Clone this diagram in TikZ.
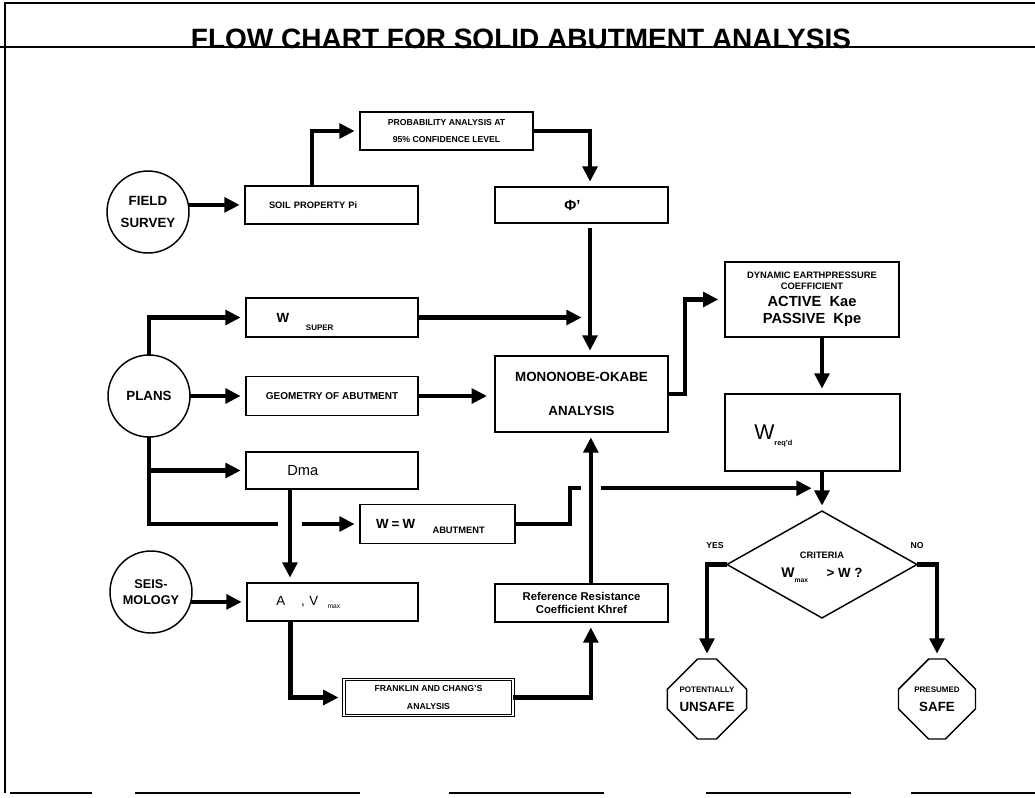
\documentclass[tikz,border=0pt]{standalone}
\usepackage{fontspec}
\setmainfont{Liberation Sans}
\usetikzlibrary{arrows.meta,shapes.geometric,shapes.misc,calc}
\begin{document}
\begin{tikzpicture}[x=0.75pt,y=-0.75pt,
  every node/.style={inner sep=0pt, outer sep=0pt},
  box/.style={draw, line width=1.1pt, rectangle, align=center, font=\bfseries\fontsize{7}{8.4}\selectfont},
  bubble/.style={draw, line width=1.1pt, circle, minimum size=61.5pt, align=center, font=\bfseries\fontsize{10}{12}\selectfont},
  octa/.style={draw, line width=1.1pt, chamfered rectangle, chamfered rectangle sep=13.5pt, minimum width=57.75pt, minimum height=60pt, align=center, font=\bfseries\fontsize{10}{12}\selectfont},
  flow/.style={line width=3.2pt, line join=miter, -{Triangle[length=11.5pt,width=11pt]}, shorten >=4pt},
  gapline/.style={white, line width=15pt},
  tag/.style={font=\bfseries\fontsize{6.5}{7}\selectfont},
]
\useasboundingbox (0,0) rectangle (1035,797);

% frame and title rule
\draw[line width=1.5pt] (1035,3) -- (5,3) -- (5,793);
\draw[line width=1pt] (10,793)--(92,793) (135,793)--(360,793) (449,793)--(604,793) (706,793)--(851,793) (911,793)--(1035,793);
\draw[line width=1pt] (0,47) -- (1035,47);
\node[font=\bfseries\fontsize{21}{24}\selectfont, anchor=base] (title) at (521,48) {FLOW CHART FOR SOLID ABUTMENT ANALYSIS};

% sources
\node[bubble] (fs) at (148,212) {FIELD\\[5pt]SURVEY};
\node[bubble] (plans) at (149,396) {PLANS};
\node[bubble, font=\bfseries\fontsize{9.5}{12}\selectfont] (seis) at (151,592) {SEIS-\\MOLOGY};

% boxes
\node[box, minimum width=129.75pt, minimum height=28.5pt, text width=129.75pt, align=left] (soil) at (331.5,205) {\hspace*{18pt}SOIL PROPERTY Pi};
\node[box, minimum width=129.75pt, minimum height=28.5pt, font=\bfseries\fontsize{6.5}{12.5}\selectfont] (prob) at (446.5,131) {PROBABILITY ANALYSIS AT\\95\% CONFIDENCE LEVEL};
\node[box, minimum width=129.75pt, minimum height=27pt, text width=129.75pt, align=left, font=\bfseries\fontsize{11}{13}\selectfont] (phi) at (581.5,205) {\hspace*{52pt}Φ'};
\node[box, line width=2pt, minimum width=129.75pt, minimum height=57pt, font=\bfseries\fontsize{10}{12}\selectfont] (mono) at (581.5,394) {MONONOBE-OKABE\\[14pt]ANALYSIS};
\node[box, minimum width=129pt, minimum height=29.25pt, text width=129pt, align=left] (wsup) at (332,317.5) {\hspace*{23pt}{\fontsize{10}{12}\selectfont W}\hspace{12.5pt}\raisebox{-6pt}[0pt][0pt]{\fontsize{6}{7}\selectfont SUPER}};
\node[box, minimum width=129pt, minimum height=29.25pt, font=\bfseries\fontsize{7.5}{9}\selectfont] (geom) at (332,396) {GEOMETRY OF ABUTMENT};
\node[box, minimum width=129pt, minimum height=27.75pt, text width=129pt, align=left, font=\fontsize{11}{13}\selectfont] (dma) at (332,470.5) {\hspace*{31pt}Dma};
\node[box, minimum width=116.25pt, minimum height=29.25pt, text width=116.25pt, align=left] (wab) at (437.5,524) {\hspace*{12pt}{\fontsize{10}{12}\selectfont W = W}\hspace{13pt}\raisebox{-4pt}[0pt][0pt]{\fontsize{7}{8}\selectfont ABUTMENT}};
\node[box, minimum width=128.25pt, minimum height=28.5pt, text width=128.25pt, align=left, font=\fontsize{10}{12}\selectfont] (avm) at (332.5,602) {\hspace*{22pt}A\hspace{12pt}, V\hspace{7pt}\raisebox{-2pt}[0pt][0pt]{\fontsize{5}{6}\selectfont max}};
\node[box, double, double distance=1.3pt, line width=0.7pt, minimum width=127pt, minimum height=27pt, font=\bfseries\fontsize{6.5}{7.8}\selectfont] (frank) at (428.5,697.5) {FRANKLIN AND CHANG'S\\[5.7pt]ANALYSIS};
\node[box, minimum width=129.75pt, minimum height=28.5pt, font=\bfseries\fontsize{8.5}{9.75}\selectfont] (khref) at (581.5,603) {Reference Resistance\\Coefficient Khref};
\node[box, minimum width=130.5pt, minimum height=56.25pt, font=\bfseries\fontsize{7}{8.25}\selectfont] (dyn) at (812,299.5) {DYNAMIC EARTHPRESSURE\\COEFFICIENT\\[4.5pt]{\fontsize{11}{12}\selectfont ACTIVE\ \ Kae}\\[4.5pt]{\fontsize{11}{12}\selectfont PASSIVE\ \ Kpe}};
\node[box, minimum width=131.25pt, minimum height=57.75pt, text width=131.25pt, align=left, font=\fontsize{16}{18}\selectfont] (wreq) at (812.5,432.5) {\hspace*{22pt}W\raisebox{-4pt}[0pt][0pt]{\bfseries\fontsize{5.5}{6}\selectfont req'd}};
\node[draw, line width=1.1pt, diamond, minimum width=142.5pt, minimum height=56.25pt, align=center, font=\bfseries\fontsize{7}{8.4}\selectfont] (crit) at (822,564.5) {CRITERIA\\[6pt]{\fontsize{10.5}{12}\selectfont W}\raisebox{-4pt}[0pt][0pt]{\fontsize{5}{6}\selectfont max}\hspace{14pt}{\fontsize{10}{12}\selectfont > W ?}};
\node[octa] (unsafe) at (707,699) {{\fontsize{6}{7}\selectfont POTENTIALLY}\\[2pt]UNSAFE};
\node[octa] (safe) at (937,699) {{\fontsize{6}{7}\selectfont PRESUMED}\\[2pt]SAFE};
\node[tag] (yes) at (715,546) {YES};
\node[tag] (no) at (917,546) {NO};

% helper coordinates
\path (wreq.south -| crit.north) -- (crit.north) coordinate[pos=0.43] (hb0);
\path (hb0) ++(-5,0) coordinate (hitB);
\path (phi.south) ++(5.5,0) coordinate (hitA);
\coordinate (dx) at ([xshift=-31.5pt]dma.south);
\coordinate (kx) at ([xshift=7pt]khref.north);

% connectors
\draw[flow] (fs.10) -- (soil.west |- fs.10);
\draw[flow] ([xshift=-14.6pt]soil.north) |- (prob.west);
\draw[flow] (prob.east) -| ([xshift=6.4pt]phi.north);
\draw[flow, shorten <=4pt] ([xshift=6.4pt]phi.south) -- ([xshift=6.4pt]mono.north);
\draw[flow] (wsup.east) -- (wsup.east -| hitA);
\draw[flow] (plans.north) |- (wsup.west);
\draw[flow] (plans.east) -- (geom.west);
\draw[flow, shorten >=6pt] (geom.east) -- (mono.west |- geom.east);
\draw[flow] (plans.south) |- (dma.west);
\draw[flow] (plans.south) |- (wab.west);
\draw[gapline, line width=18pt] (dx |- wab.west) ++(0,-6) -- ++(0,12);
\draw[flow] (dx) -- (dx |- avm.north);
\draw[flow] (seis.-14) -- (avm.west |- seis.-14);
\draw[flow] ([xshift=-31.5pt]avm.south) |- (frank.west);
\draw[flow] (frank.east) -| ([xshift=7pt]khref.south);
\draw[flow] (wab.east) -- ++(55,0) |- (hitB);
\draw[gapline] (kx |- hitB) ++(0,-6) -- ++(0,12);
\draw[flow] (kx) -- (kx |- mono.south);
\draw[flow, shorten >=5pt] (mono.east) -- ++(17,0) |- (dyn.west);
\draw[flow] (dyn.south -| crit.north) -- (wreq.north -| crit.north);
\draw[flow] (wreq.south -| crit.north) -- (crit.north);
\draw[flow] (crit.west) -| (unsafe.north);
\draw[flow] (crit.east) -| (safe.north);
\end{tikzpicture}
\end{document}
